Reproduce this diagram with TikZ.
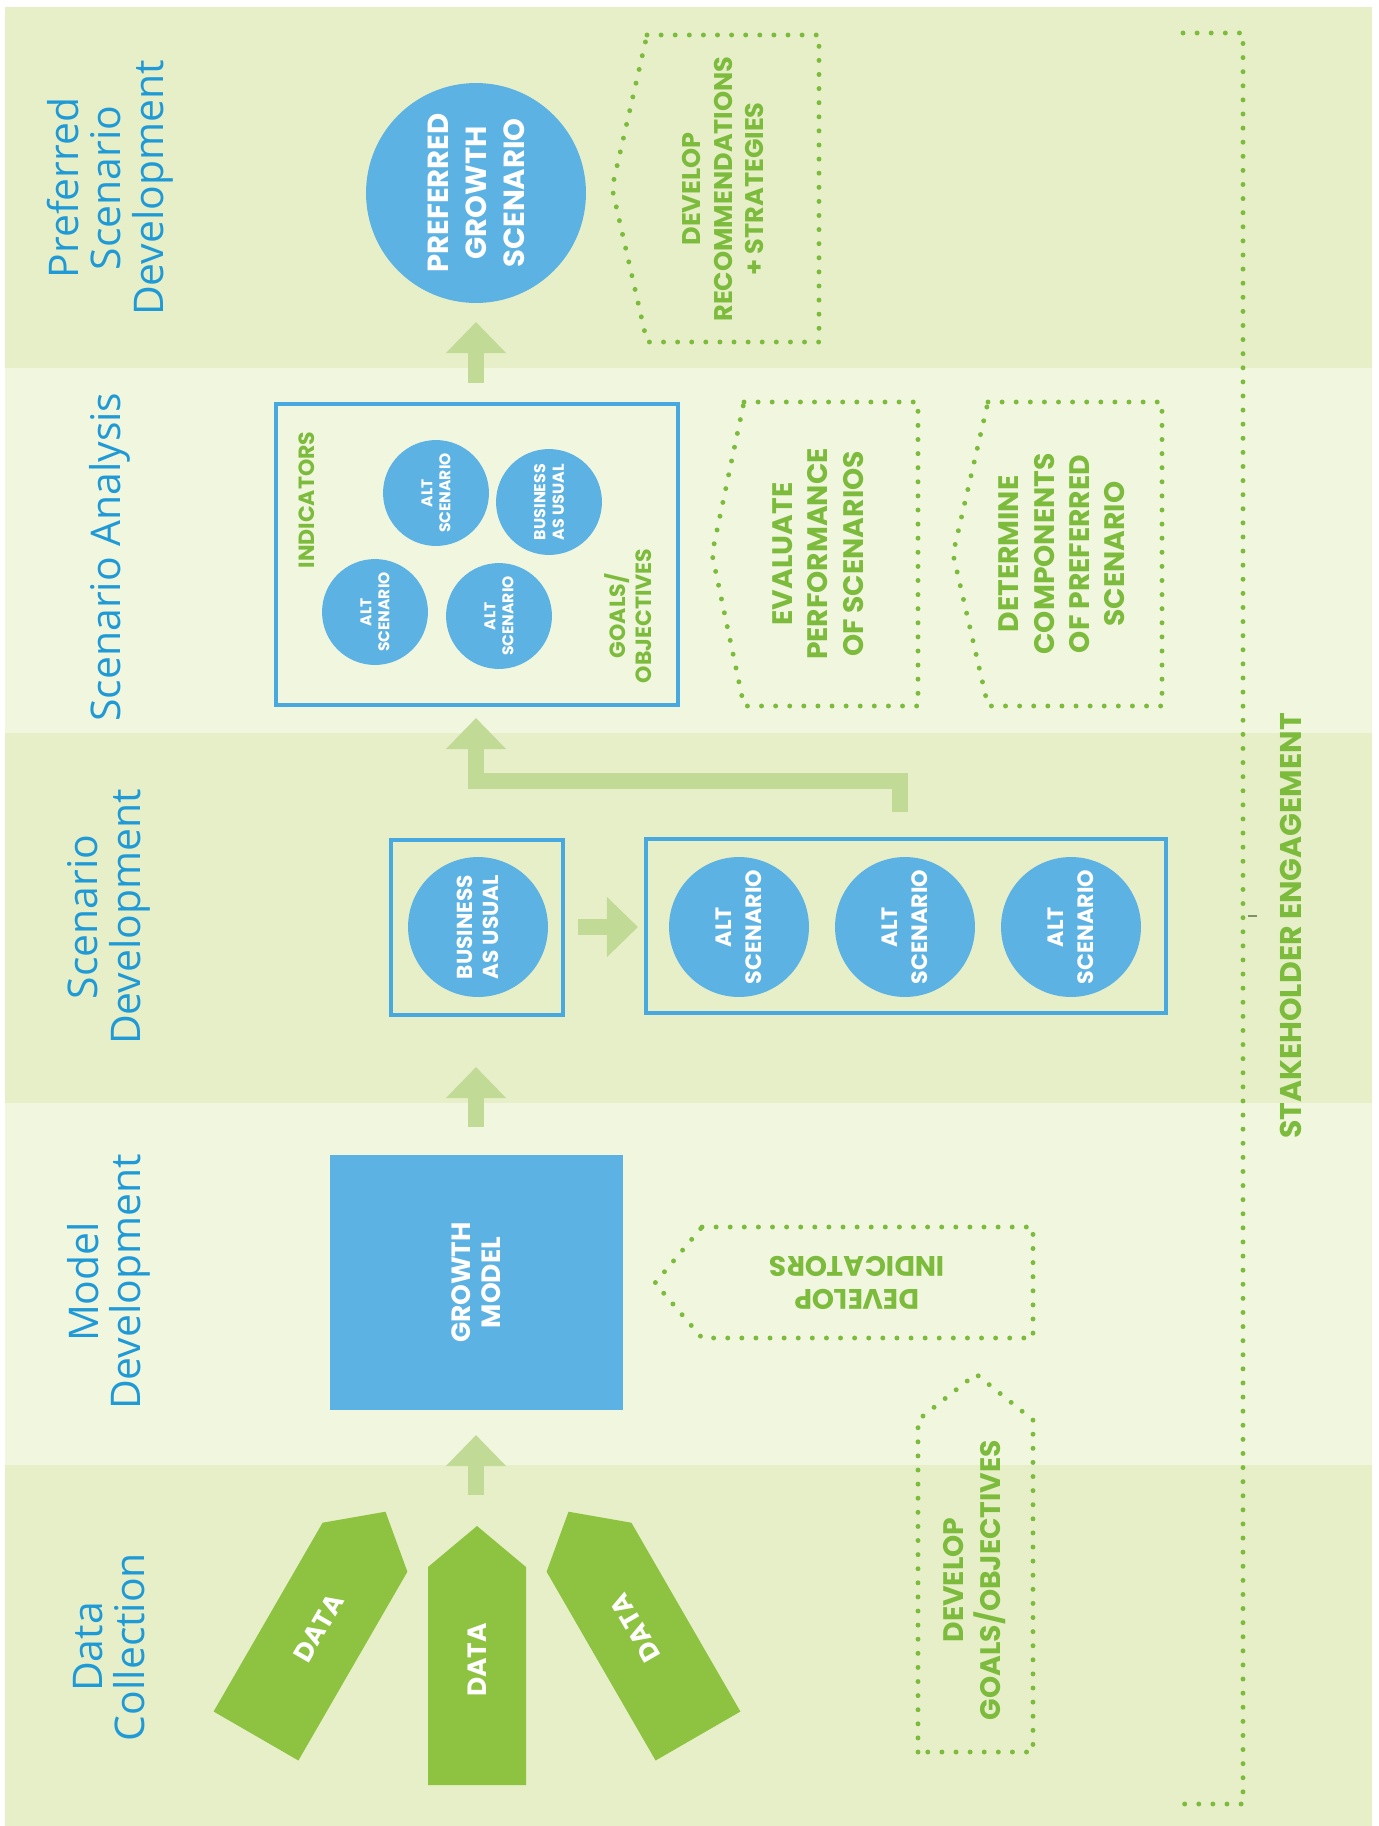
\documentclass[tikz,border=0pt]{standalone}
\usepackage{fontspec}
\newfontfamily\titlefont{Open Sans}
\newfontfamily\capfont{Poppins}
\usetikzlibrary{arrows.meta}
\definecolor{bgdark}{HTML}{E6EFC8}
\definecolor{bglight}{HTML}{F1F6DF}
\definecolor{titleblue}{HTML}{1F9AD6}
\definecolor{circblue}{HTML}{5CB3E3}
\definecolor{lineblue}{HTML}{48A8E0}
\definecolor{txtgreen}{HTML}{7CBB3C}
\definecolor{datagreen}{HTML}{8DC340}
\definecolor{arrgreen}{HTML}{C1DB97}
\begin{document}
\begin{tikzpicture}[x=0.5674pt,y=-0.5674pt,
  stagetitle/.style={rotate=90, align=center, text=titleblue, inner sep=0,
    font=\titlefont\fontsize{23.2}{24}\selectfont},
  bigcirc/.style={circle, fill=circblue, minimum size=124.8pt, inner sep=0},
  midcirc/.style={circle, fill=circblue, minimum size=79.4pt, inner sep=0},
  smallcirc/.style={circle, fill=circblue, minimum size=60.1pt, inner sep=0},
  wplain/.style={align=center, text=white, inner sep=0},
  wtext/.style={wplain, rotate=90},
  gplain/.style={align=center, text=txtgreen, inner sep=0},
  gtext/.style={gplain, rotate=90},
  bluebox/.style={draw=lineblue, line width=2.3pt, inner sep=0},
  dotline/.style={draw=txtgreen, line width=2.8pt, line cap=round, dash pattern=on 0pt off 8pt},
  lgarrow/.style={draw=arrgreen, line width=9.6pt, line join=miter,
    -{Triangle[width=33pt,length=17.6pt]}},
  dataarrow/.style={fill=datagreen},
  datafont/.style={font=\capfont\bfseries\fontsize{15}{17}\selectfont}
]
% canvas
\path[use as bounding box, fill=white] (0,0) rectangle (1379,1826);
\fill[bgdark]  (5,7)    rectangle (1372,368);
\fill[bglight] (5,368)  rectangle (1372,733);
\fill[bgdark]  (5,733)  rectangle (1372,1103);
\fill[bglight] (5,1103) rectangle (1372,1465);
\fill[bgdark]  (5,1465) rectangle (1372,1826);

% stage titles
\node[stagetitle] (t1) at (110,188)  {Preferred\\Scenario\\Development};
\node[stagetitle] (t2) at (110,557)  {Scenario Analysis};
\node[stagetitle] (t3) at (109,917)  {Scenario\\Development};
\node[stagetitle] (t4) at (109,1282) {Model\\Development};
\node[stagetitle] (t5) at (109,1647) {Data\\Collection};

% light green connectors
\coordinate (a1s) at (476,383);  \coordinate (a1e) at (476,322);
\coordinate (a2s) at (900,812);  \coordinate (a2b) at (900,781);
\coordinate (a2c) at (476,781);  \coordinate (a2e) at (476,718);
\coordinate (a3s) at (476,1127); \coordinate (a3e) at (476,1067);
\coordinate (a4s) at (476,1495); \coordinate (a4e) at (476,1435);
\coordinate (a5s) at (578,927);  \coordinate (a5e) at (638,927);
\draw[lgarrow] (a1s) -- (a1e);
\draw[lgarrow] (a2s) -- (a2b) -- (a2c) -- (a2e);
\draw[lgarrow] (a3s) -- (a3e);
\draw[lgarrow] (a4s) -- (a4e);
\draw[lgarrow] (a5s) -- (a5e);

% preferred growth scenario
\node[bigcirc] (pref) at (476,193) {};
\node[wtext, font=\capfont\bfseries\fontsize{16.5}{21.5}\selectfont] (preft) at (pref.center)
  {PREFERRED\\GROWTH\\SCENARIO};

% develop recommendations
\draw[dotline] (647,35) -- (819,35) -- (819,342) -- (647,342) -- (612,188) -- cycle;
\node[gtext, font=\capfont\bfseries\fontsize{14.5}{18}\selectfont] (recs) at (723,189)
  {DEVELOP\\RECOMMENDATIONS\\+ STRATEGIES};

% scenario analysis box
\node[bluebox, minimum width=228.1pt, minimum height=170.8pt] (anbox) at (477,554.5) {};
\node[smallcirc] (sa1) at (375,612) {};
\node[smallcirc] (sa2) at (436,493) {};
\node[smallcirc] (sa3) at (499,616) {};
\node[smallcirc] (sa4) at (549,502) {};
\node[wtext, font=\capfont\bfseries\fontsize{8.8}{10.2}\selectfont] (sa1t) at (sa1.center) {ALT\\SCENARIO};
\node[wtext, font=\capfont\bfseries\fontsize{8.8}{10.2}\selectfont] (sa2t) at (sa2.center) {ALT\\SCENARIO};
\node[wtext, font=\capfont\bfseries\fontsize{8.8}{10.2}\selectfont] (sa3t) at (sa3.center) {ALT\\SCENARIO};
\node[wtext, font=\capfont\bfseries\fontsize{9}{10.5}\selectfont] (sa4t) at (sa4.center) {BUSINESS\\AS USUAL};
\node[gtext, font=\capfont\bfseries\fontsize{12.5}{15}\selectfont] (ind) at (307,500) {INDICATORS};
\node[gtext, font=\capfont\bfseries\fontsize{12.5}{15}\selectfont] (goals) at (628,616) {GOALS/\\OBJECTIVES};

% evaluate / determine
\draw[dotline] (744,402) -- (918,402) -- (918,706) -- (744,706) -- (712,554) -- cycle;
\node[gtext, font=\capfont\bfseries\fontsize{16}{20}\selectfont] (eval) at (818,554)
  {EVALUATE\\PERFORMANCE\\OF SCENARIOS};
\draw[dotline] (988,402) -- (1162,402) -- (1162,706) -- (988,706) -- (953,554) -- cycle;
\node[gtext, font=\capfont\bfseries\fontsize{16}{20}\selectfont] (det) at (1062,554)
  {DETERMINE\\COMPONENTS\\OF PREFERRED\\SCENARIO};

% scenario development
\node[bluebox, minimum width=97.6pt, minimum height=99.3pt] (baubox) at (477,927.5) {};
\node[midcirc] (bau) at (478,927) {};
\node[wtext, font=\capfont\bfseries\fontsize{12.3}{15}\selectfont] (baut) at (bau.center) {BUSINESS\\AS USUAL};
\node[bluebox, minimum width=295pt, minimum height=98.7pt] (altbox) at (906,926) {};
\node[midcirc] (alt1) at (739,927) {};
\node[midcirc] (alt2) at (905,927) {};
\node[midcirc] (alt3) at (1071,927) {};
\node[wtext, font=\capfont\bfseries\fontsize{12.6}{17}\selectfont] (alt1t) at (alt1.center) {ALT\\SCENARIO};
\node[wtext, font=\capfont\bfseries\fontsize{12.6}{17}\selectfont] (alt2t) at (alt2.center) {ALT\\SCENARIO};
\node[wtext, font=\capfont\bfseries\fontsize{12.6}{17}\selectfont] (alt3t) at (alt3.center) {ALT\\SCENARIO};

% growth model
\node[fill=circblue, minimum width=166.2pt, minimum height=144.7pt, inner sep=0] (gm) at (476.5,1282.5) {};
\node[wtext, font=\capfont\bfseries\fontsize{15}{17}\selectfont] (gmt) at (gm.center) {GROWTH\\MODEL};

% develop indicators
\draw[dotline] (702,1227) -- (1033,1227) -- (1033,1338) -- (702,1338) -- (655,1283) -- cycle;
\node[gplain, rotate=180, font=\capfont\bfseries\fontsize{16}{19}\selectfont] (devind) at (857,1283)
  {DEVELOP\\INDICATORS};

% develop goals/objectives
\draw[dotline] (918,1752) -- (918,1420) -- (976,1374) -- (1033,1420) -- (1033,1752) -- cycle;
\node[gtext, font=\capfont\bfseries\fontsize{16}{21}\selectfont] (devgoals) at (975,1580)
  {DEVELOP\\GOALS/OBJECTIVES};

% data arrows
\fill[dataarrow] (428,1785) -- (526,1785) -- (526,1567) -- (477,1526) -- (428,1567) -- cycle;
\fill[dataarrow] (213.6,1711.5) -- (298.4,1760.5) -- (407.4,1571.7) -- (385.5,1511.7) -- (322.6,1522.7) -- cycle;
\fill[dataarrow] (740.4,1711.5) -- (655.6,1760.5) -- (546.6,1571.7) -- (568.5,1511.7) -- (631.4,1522.7) -- cycle;
\node[wplain, datafont, rotate=90]  (d2) at (477,1660)    {DATA};
\node[wplain, datafont, rotate=60]  (d1) at (318.5,1628)  {DATA};
\node[wplain, datafont, rotate=120] (d3) at (635.5,1628)  {DATA};

% stakeholder engagement
\coordinate (sh1) at (1183,33);  \coordinate (sh2) at (1243,33);
\coordinate (sh3) at (1243,1804); \coordinate (sh4) at (1183,1804);
\draw[dotline] (sh1) -- (sh2) -- (sh3) -- (sh4);
\draw[draw=gray!70!txtgreen, line width=0.8pt] (1248,916) -- (1257,916);
\node[gtext, font=\capfont\bfseries\fontsize{17}{20}\selectfont] (stake) at (1291,926)
  {STAKEHOLDER ENGAGEMENT};
\end{tikzpicture}
\end{document}
